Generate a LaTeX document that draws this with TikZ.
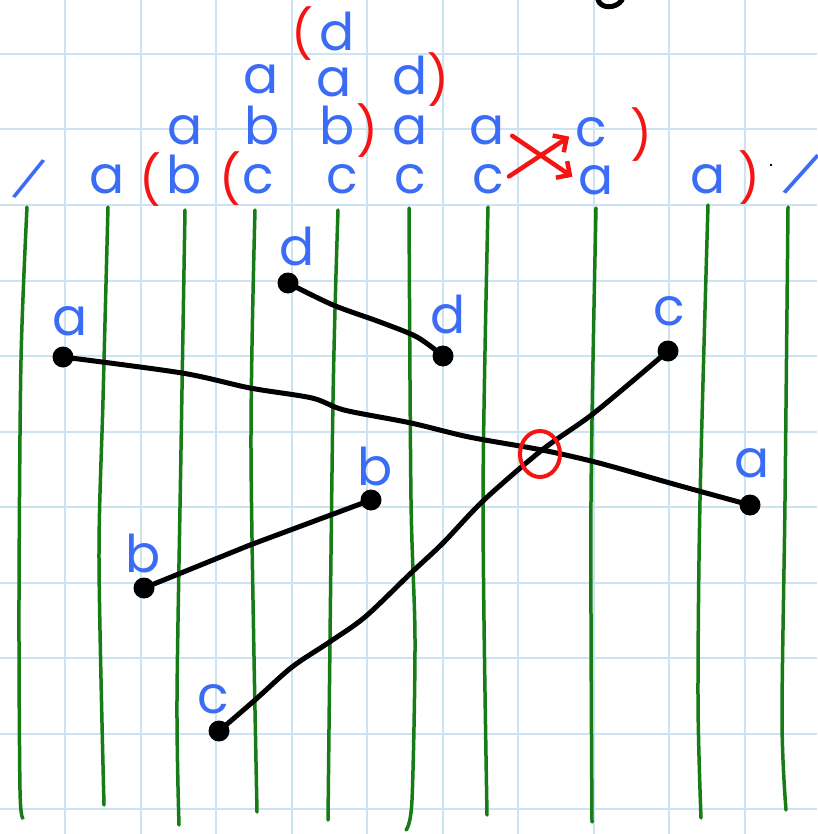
\documentclass[tikz,border=0pt]{standalone}
\usepackage{fontspec}
\setmainfont{Poppins}
\usetikzlibrary{arrows.meta,shapes.geometric}
\definecolor{inkblue}{RGB}{58,108,245}
\definecolor{inkred}{RGB}{245,20,20}
\definecolor{inkgreen}{RGB}{22,125,22}
\definecolor{gridblue}{RGB}{204,228,242}

\begin{document}
\begin{tikzpicture}[x=1pt,y=-1pt,>={Straight Barb[length=10pt,width=20pt]},
  ltr/.style={text=inkblue,inner sep=0pt,anchor=base,font=\fontsize{52}{52}\selectfont},
  brk/.style={text=inkred,inner sep=0pt,font=\fontsize{48}{48}\selectfont},
  strand/.style={inkgreen,line width=3.5pt,line cap=round},
  seg/.style={black,line width=5pt,line cap=round,line join=round},
  endpt/.style={circle,fill=black,inner sep=0pt,minimum size=21pt},
  xover/.style={inkred,line width=4.5pt,line cap=round},
  gridline/.style={gridblue,line width=2pt}]
  \useasboundingbox (0,0) rectangle (817,834);
  \fill[white] (0,0) rectangle (817,834);
  % squared paper
  \foreach \i in {0,...,9} \draw[gridline] ({65+75.5*\i},0) -- ({65+75.5*\i},834);
  \foreach \j in {0,...,10} \draw[gridline] (0,{54+75.5*\j}) -- (817,{54+75.5*\j});

  % strands
  \draw[strand] plot[smooth] coordinates {(27,207) (21,360) (19,600) (20,790) (23,818)};
  \draw[strand] plot[smooth] coordinates {(108,207) (103,400) (99,560) (104,805)};
  \draw[strand] plot[smooth] coordinates {(185,210) (181,450) (177,700) (179,825)};
  \draw[strand] plot[smooth] coordinates {(255,210) (251,450) (257,812)};
  \draw[strand] plot[smooth] coordinates {(338,210) (333,400) (328,820)};
  \draw[strand] plot[smooth] coordinates {(409,208) (411,500) (415,640) (412,800) (406,830)};
  \draw[strand] plot[smooth] coordinates {(488,207) (483,500) (487,815)};
  \draw[strand] plot[smooth] coordinates {(596,208) (591,500) (592,822)};
  \draw[strand] plot[smooth] coordinates {(708,205) (700,500) (698,700) (701,818)};
  \draw[strand] plot[smooth] coordinates {(788,207) (785,500) (782,720) (786,810)};

  % top rows
  \node[ltr,rotate=-25,scale=0.8] (s1) at (22,194) {/};
  \node[ltr] (p1a) at (107,194) {a};
  \node[ltr] (p1b) at (184,194) {b};
  \node[ltr] (p1c) at (258,194) {c};
  \node[ltr] (p1d) at (342,194) {c};
  \node[ltr] (p1e) at (410,194) {c};
  \node[ltr] (p1f) at (488,194) {c};
  \node[ltr] (p1g) at (596,195) {a};
  \node[ltr] (p1h) at (708,194) {a};
  \node[ltr,rotate=-28,scale=0.85] (s2) at (794,189) {/};
  \node[ltr] (p2a) at (185,145) {a};
  \node[ltr] (p2b) at (262,145) {b};
  \node[ltr] (p2c) at (337,145) {b};
  \node[ltr] (p2d) at (410,145) {a};
  \node[ltr] (p2e) at (487,145) {a};
  \node[ltr] (p2f) at (591,147) {c};
  \node[ltr] (p3a) at (261,94) {a};
  \node[ltr] (p3b) at (334,97) {a};
  \node[ltr] (p3c) at (410,95) {d};
  \node[ltr] (p4a) at (337,51) {d};

  \node[brk] (k1) at (150,180) {(};
  \node[brk] (k2) at (230,179) {(};
  \node[brk] (k3) at (749,178) {)};
  \node[brk] (k4) at (367,131) {)};
  \node[brk] (k5) at (641,135) {)};
  \node[brk] (k6) at (438,80) {)};
  \node[brk] (k7) at (302,34) {(};

  \draw[xover,->] (p1f.east) -- (p2f.west)
    [shorten <=6pt,shorten >=7pt];
  \draw[xover,->] (p2e.east) -- (p1g.west)
    [shorten <=9pt,shorten >=7pt];

  % end points
  \node[endpt] (d1) at (288,283) {};
  \node[endpt] (d2) at (443,356) {};
  \node[endpt] (a1) at (63,357) {};
  \node[endpt] (a2) at (750,505) {};
  \node[endpt] (c2) at (668,351) {};
  \node[endpt] (b2) at (371,500) {};
  \node[endpt] (b1) at (144,588) {};
  \node[endpt] (c1) at (219,731) {};

  \draw[seg] plot[smooth] coordinates {(d1.center) (333,305) (380,322) (417,337) (d2.center)};
  \draw[seg] plot[smooth] coordinates {(a1.center) (182,373) (250,388) (312,398) (344,410)
    (411,423) (469,437) (542,450) (599,463) (677,485) (a2.center)};
  \draw[seg] plot[smooth] coordinates {(c2.center) (594,413) (542,450) (484,500) (443,543)
    (411,573) (365,617) (328,643) (292,667) (255,700) (c1.center)};
  \draw[seg] (b1.center) -- (250,545) -- (b2.center);

  % labels
  \node[ltr] (ld1) at (297,265) {d};
  \node[ltr] (ld2) at (448,333) {d};
  \node[ltr] (la1) at (70,335) {a};
  \node[ltr] (la2) at (752,477) {a};
  \node[ltr] (lc2) at (669,325) {c};
  \node[ltr] (lb2) at (375,485) {b};
  \node[ltr] (lb1) at (143,572) {b};
  \node[ltr] (lc1) at (213,713) {c};

  \node[draw=inkred,line width=4pt,ellipse,minimum width=40pt,minimum height=46pt,inner sep=0pt] (hit) at (540,454) {};
  \draw[seg] (598,0) .. controls (601,9) and (616,9) .. (622,0);
  \fill (771,165) circle (1.3);
\end{tikzpicture}
\end{document}
